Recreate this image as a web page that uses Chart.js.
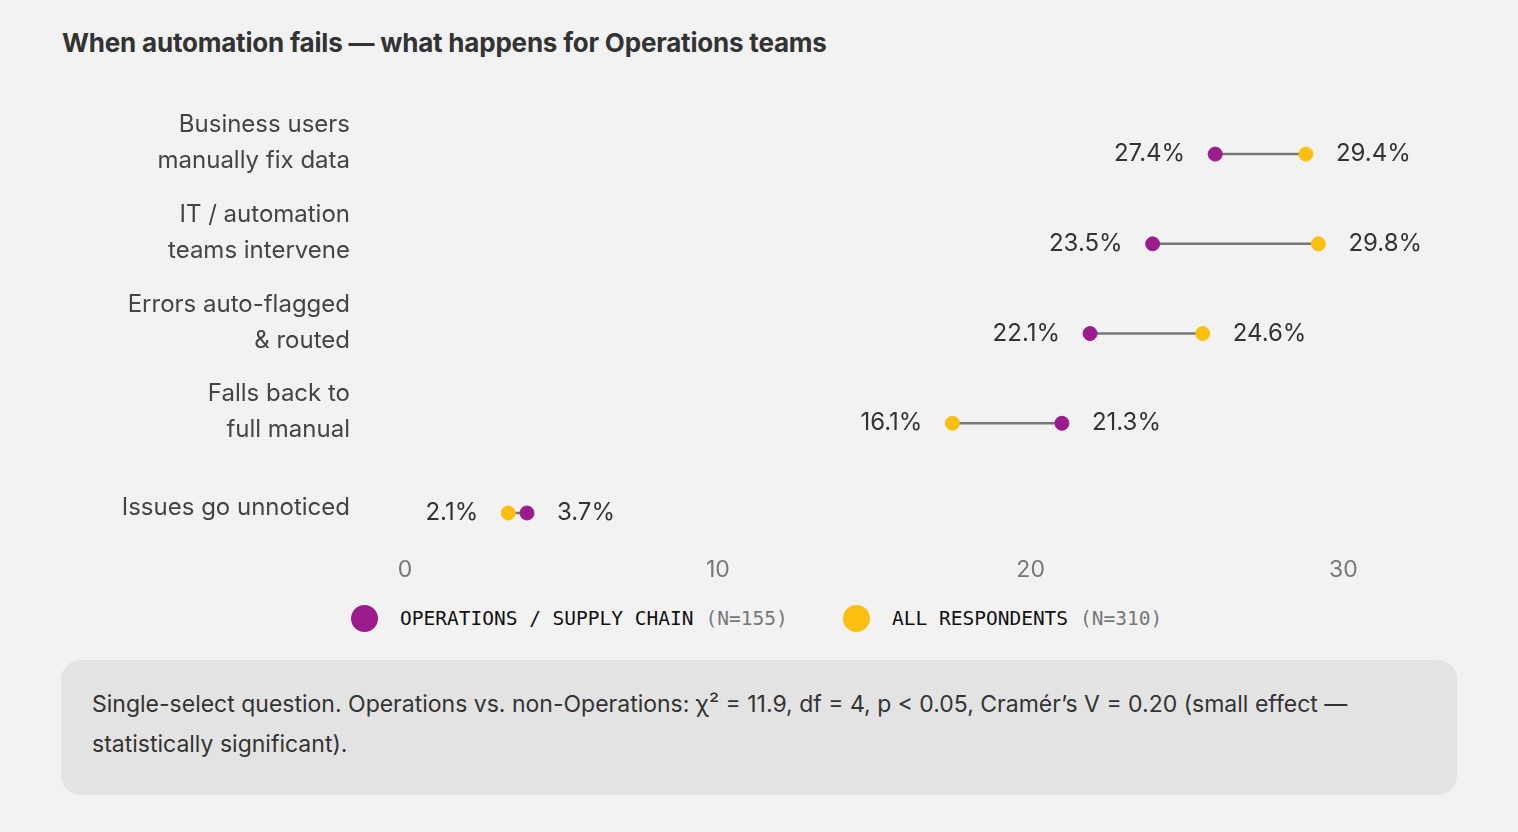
<!DOCTYPE html>
<html>
<head>
<meta charset="utf-8">
<script src="https://cdn.jsdelivr.net/npm/chart.js@4"></script>
<style>
  body { margin:0; background:#f2f2f2; font-family:Inter, sans-serif; width:1518px; height:832px; position:relative; overflow:hidden; }
  h1 { position:absolute; left:62px; top:27px; margin:0; font-size:26px; font-weight:700; color:#333; letter-spacing:-0.2px; }
  #wrap { position:absolute; left:60px; top:90px; width:1400px; height:498px; }
  .legend { position:absolute; top:605px; font-family:"DejaVu Sans Mono", monospace; font-size:19.5px; color:#111; display:flex; align-items:center; }
  .legend i { display:inline-block; width:27px; height:27px; border-radius:50%; margin-right:22px; }
  .legend span { color:#777; margin-left:12px; }
  .note { position:absolute; left:61px; top:660px; width:1396px; height:135px; background:#e3e3e3; border-radius:20px; box-sizing:border-box; padding:24px 31px; font-size:23px; line-height:40px; color:#333; }
</style>
</head>
<body>
<h1>When automation fails — what happens for Operations teams</h1>
<div id="wrap"><canvas id="c"></canvas></div>
<div class="legend" style="left:351px"><i style="background:#9b1c8c"></i>OPERATIONS / SUPPLY CHAIN<span>(N=155)</span></div>
<div class="legend" style="left:843px"><i style="background:#fbbf12"></i>ALL RESPONDENTS<span>(N=310)</span></div>
<div class="note">Single-select question. Operations vs. non-Operations: χ² = 11.9, df = 4, p &lt; 0.05, Cramér’s V = 0.20 (small effect — statistically significant).</div>
<script>
// categories (multi-line labels)
const categories = [
  ['Business users', 'manually fix data'],
  ['IT / automation', 'teams intervene'],
  ['Errors auto-flagged', '& routed'],
  ['Falls back to', 'full manual'],
  ['Issues go unnoticed']
];
// plotted positions
const opsValues = [25.9, 23.9, 21.9, 21.0, 3.9];
const allValues = [28.8, 29.2, 25.5, 17.5, 3.3];
// printed labels (left end / right end)
const leftLabels = ['27.4%', '23.5%', '22.1%', '16.1%', '2.1%'];
const rightLabels = ['29.4%', '29.8%', '24.6%', '21.3%', '3.7%'];
const xTicks = [0, 10, 20, 30];

const PURPLE = '#9b1c8c', YELLOW = '#fbbf12';

// connectors, value labels and category labels
const dumbbell = {
  id: 'dumbbell',
  beforeDatasetsDraw(chart) {
    const { ctx, scales: { x, y } } = chart;
    ctx.save();
    ctx.strokeStyle = '#777';
    ctx.lineWidth = 2.5;
    categories.forEach((c, i) => {
      ctx.beginPath();
      ctx.moveTo(x.getPixelForValue(opsValues[i]), y.getPixelForValue(i));
      ctx.lineTo(x.getPixelForValue(allValues[i]), y.getPixelForValue(i));
      ctx.stroke();
    });
    ctx.restore();
  },
  afterDatasetsDraw(chart) {
    const { ctx, chartArea, scales: { x, y } } = chart;
    ctx.save();
    ctx.font = '24px Inter';
    ctx.fillStyle = '#333';
    ctx.textBaseline = 'middle';
    categories.forEach((c, i) => {
      const lo = Math.min(opsValues[i], allValues[i]);
      const hi = Math.max(opsValues[i], allValues[i]);
      const py = y.getPixelForValue(i);
      ctx.textAlign = 'right';
      ctx.fillText(leftLabels[i], x.getPixelForValue(lo) - 30, py);
      ctx.textAlign = 'left';
      ctx.fillText(rightLabels[i], x.getPixelForValue(hi) + 30, py);
      // category label, right-aligned, slightly above the row
      ctx.fillStyle = '#444';
      ctx.textAlign = 'right';
      const lh = 36;
      const top = c.length > 1 ? py - 11 - lh / 2 : py - 5;
      c.forEach((line, k) => ctx.fillText(line, chartArea.left - 55, top + k * lh));
      ctx.fillStyle = '#333';
    });
    ctx.restore();
  }
};

new Chart(document.getElementById('c'), {
  type: 'scatter',
  data: {
    datasets: [
      { label: 'Operations', data: opsValues.map((v, i) => ({ x: v, y: i })), backgroundColor: PURPLE, borderColor: PURPLE, pointRadius: 7 },
      { label: 'All', data: allValues.map((v, i) => ({ x: v, y: i })), backgroundColor: YELLOW, borderColor: YELLOW, pointRadius: 7 }
    ]
  },
  options: {
    responsive: true,
    maintainAspectRatio: false,
    animation: false,
    layout: { padding: { top: 10, right: 54 } },
    plugins: { legend: { display: false }, tooltip: { enabled: false } },
    scales: {
      x: {
        type: 'linear', min: 0, max: 32,
        afterBuildTicks: s => { s.ticks = xTicks.map(v => ({ value: v })); },
        grid: { display: false }, border: { display: false },
        ticks: { color: '#777', font: { size: 23, family: 'Inter' }, padding: 4, maxRotation: 0 }
      },
      y: {
        type: 'linear', reverse: true, min: -0.603, max: 4.35,
        afterFit: s => { s.width = 345; },
        grid: { display: false }, border: { display: false },
        ticks: { display: false }
      }
    }
  },
  plugins: [dumbbell]
});
</script>
</body>
</html>
